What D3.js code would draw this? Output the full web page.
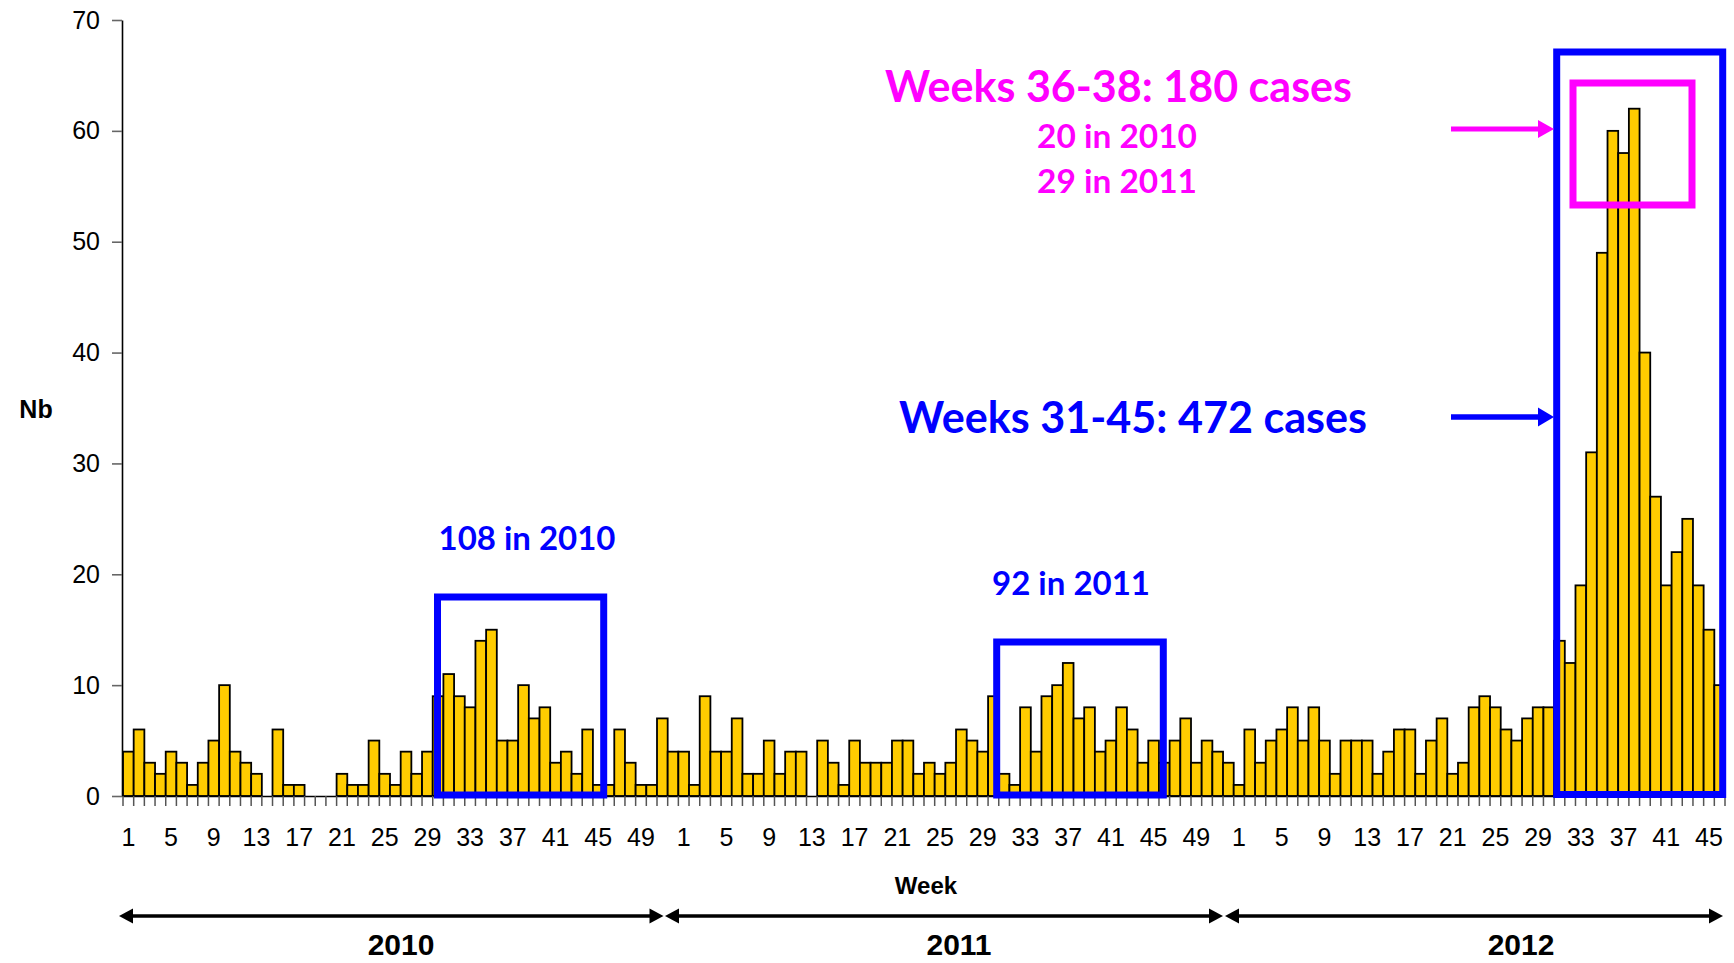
<!DOCTYPE html>
<html>
<head>
<meta charset="utf-8">
<script src="https://cdn.jsdelivr.net/npm/d3@7"></script>
<style>
  html, body { margin: 0; padding: 0; background: #fff; }
  svg { display: block; }
</style>
</head>
<body>
<svg id="chart" width="1734" height="963"></svg>
<script>
// ---- data (weekly number of cases) ----
const years = ["2010", "2011", "2012"];
const weeks2010 = [4,6,3,2,4,3,1,3,5,10,4,3,2,0,6,1,1,0,0,0,2,1,1,5,2,1,4,2,4,9,
                   11,9,8,14,15,5,5,10,7,8,3,4,2,6,1,1,6,3,1,1,7,4];
const weeks2011 = [4,1,9,4,4,7,2,2,5,2,4,4,0,5,3,1,5,3,3,3,5,5,2,3,2,3,6,5,4,9,
                   2,1,8,4,9,10,12,7,8,4,5,8,6,3,5,3,5,7,3,5,4,3];
const weeks2012 = [1,6,3,5,6,8,5,8,5,2,5,5,5,2,4,6,6,2,5,7,2,3,8,9,8,6,5,7,8,8,
                   14,12,19,31,49,60,58,62,40,27,19,22,25,19,15,10];
const yTicks = [0, 10, 20, 30, 40, 50, 60, 70];
const labelWeeks = [1,5,9,13,17,21,25,29,33,37,41,45,49];

const rows = [];
[weeks2010, weeks2011, weeks2012].forEach((arr, yi) => {
  arr.forEach((v, wi) => rows.push({ year: years[yi], week: wi + 1, value: v }));
});

const svg = d3.select("#chart");
const x = d3.scaleBand().domain(d3.range(rows.length)).range([123, 1725]).padding(0);
const y = d3.scaleLinear().domain([0, 70]).range([796, 20]);

// ---- bars ----
svg.append("g").selectAll("rect")
  .data(rows.map((d, i) => ({ ...d, i })).filter(d => d.value > 0))
  .join("rect")
  .attr("x", d => x(d.i))
  .attr("width", x.bandwidth())
  .attr("y", d => y(d.value))
  .attr("height", d => y(0) - y(d.value))
  .attr("fill", "#FFCC00")
  .attr("stroke", "#000")
  .attr("stroke-width", 1.8);

// ---- y axis ----
const yAxis = svg.append("g")
  .attr("transform", "translate(122,0)")
  .call(d3.axisLeft(y).tickValues(yTicks).tickSize(10).tickSizeOuter(0).tickPadding(12));
yAxis.select(".domain").attr("stroke", "#000").attr("stroke-width", 1.6);
yAxis.selectAll(".tick line").attr("stroke", "#666").attr("stroke-width", 1.6);
yAxis.selectAll(".tick text")
  .attr("font-family", "'Liberation Sans', Arial, sans-serif")
  .attr("font-size", 25).attr("fill", "#000");

// ---- x axis ----
const xAxis = svg.append("g")
  .attr("transform", "translate(0,796)")
  .call(d3.axisBottom(x)
    .tickValues(d3.range(rows.length).filter(i => labelWeeks.includes(rows[i].week)))
    .tickFormat(i => rows[i].week)
    .tickSize(0).tickSizeOuter(0).tickPadding(50));
xAxis.select(".domain").attr("stroke", "#000").attr("stroke-width", 1.6);
xAxis.selectAll(".tick text")
  .attr("font-family", "'Liberation Sans', Arial, sans-serif")
  .attr("font-size", 25).attr("fill", "#000").attr("dy", "0");

// tick marks at week boundaries
const edges = d3.range(rows.length + 1).map(i => i < rows.length ? x(i) : x.range()[1]);
svg.append("g").selectAll("line").data(edges).join("line")
  .attr("x1", d => d).attr("x2", d => d)
  .attr("y1", 796).attr("y2", 806)
  .attr("stroke", "#555").attr("stroke-width", 1.5);

// ---- axis titles ----
svg.append("text").attr("x", 36).attr("y", 418).attr("text-anchor", "middle")
  .attr("font-family", "'Liberation Sans', Arial, sans-serif").attr("font-weight", "bold")
  .attr("font-size", 25).text("Nb");
svg.append("text").attr("x", 926).attr("y", 894).attr("text-anchor", "middle")
  .attr("font-family", "'Liberation Sans', Arial, sans-serif").attr("font-weight", "bold")
  .attr("font-size", 24).text("Week");

// ---- year arrows ----
function arrowHead(g, tipX, tipY, dir, len, half, color) {
  g.append("path")
    .attr("d", `M${tipX},${tipY} L${tipX - dir * len},${tipY - half} L${tipX - dir * len},${tipY + half} Z`)
    .attr("fill", color);
}
const yearSpans = [[119, 663.5], [665, 1223], [1225, 1723]];
const yearCenters = [401, 959, 1521];
const ya = svg.append("g");
yearSpans.forEach((s, k) => {
  ya.append("line").attr("x1", s[0] + 8).attr("x2", s[1] - 8).attr("y1", 916).attr("y2", 916)
    .attr("stroke", "#000").attr("stroke-width", 3.5);
  arrowHead(ya, s[0], 916, -1, 14, 7.5, "#000");
  arrowHead(ya, s[1], 916, 1, 14, 7.5, "#000");
  ya.append("text").attr("x", yearCenters[k]).attr("y", 955).attr("text-anchor", "middle")
    .attr("font-family", "'Liberation Sans', Arial, sans-serif").attr("font-weight", "bold")
    .attr("font-size", 30).text(years[k]);
});

// ---- annotation boxes ----
const ann = svg.append("g");
function box(x0, y0, x1, y1, color, w) {
  ann.append("rect").attr("x", x0).attr("y", y0).attr("width", x1 - x0).attr("height", y1 - y0)
    .attr("fill", "none").attr("stroke", color).attr("stroke-width", w);
}
box(437.5, 597, 603.7, 795, "#0000FF", 7);
box(996.7, 642, 1163.3, 795, "#0000FF", 7);
box(1556.7, 52, 1722.7, 794.5, "#0000FF", 7);
box(1573, 83, 1692, 205, "#FF00FF", 7);

function annText(txt, cx, base, size, color, len) {
  ann.append("text").attr("x", cx).attr("y", base).attr("text-anchor", "middle")
    .attr("font-family", "Lato, 'Open Sans', sans-serif").attr("font-weight", "bold")
    .attr("font-size", size).attr("fill", color)
    .attr("textLength", len).attr("lengthAdjust", "spacingAndGlyphs")
    .text(txt);
}
annText("108 in 2010", 527, 550, 32, "#0000FF", 177);
annText("92 in 2011", 1071, 595, 32, "#0000FF", 158);
annText("Weeks 36-38: 180 cases", 1118.5, 102, 43, "#FF00FF", 467);
annText("20 in 2010", 1117, 148, 33, "#FF00FF", 160);
annText("29 in 2011", 1117, 193, 33, "#FF00FF", 160);
annText("Weeks 31-45: 472 cases", 1133, 433, 43, "#0000FF", 468);

// pointing arrows
ann.append("line").attr("x1", 1451).attr("x2", 1540).attr("y1", 129).attr("y2", 129)
  .attr("stroke", "#FF00FF").attr("stroke-width", 5);
arrowHead(ann, 1554, 129, 1, 16, 9, "#FF00FF");
ann.append("line").attr("x1", 1451).attr("x2", 1540).attr("y1", 417).attr("y2", 417)
  .attr("stroke", "#0000FF").attr("stroke-width", 5.5);
arrowHead(ann, 1554, 417, 1, 16, 9.5, "#0000FF");
</script>
</body>
</html>
